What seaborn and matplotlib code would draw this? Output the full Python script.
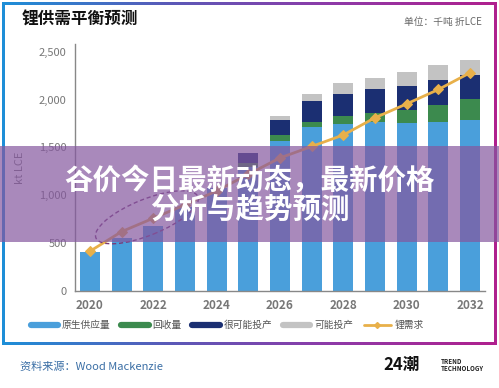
import numpy as np
import pandas as pd
import matplotlib
matplotlib.use("Agg")
import matplotlib.pyplot as plt
import seaborn as sns
from matplotlib.patches import Rectangle, Ellipse
from matplotlib.lines import Line2D
from matplotlib.transforms import ScaledTranslation
from matplotlib.colors import LinearSegmentedColormap

# ---- data ----
years = ["2020", "2021", "2022", "2023", "2024", "2025", "2026",
         "2027", "2028", "2029", "2030", "2031", "2032"]
primary = [410, 555, 680, 880, 1080, 1300, 1570, 1710, 1745, 1770, 1760, 1770, 1790]
recycle = [0, 0, 0, 0, 0, 40, 60, 60, 85, 90, 135, 175, 215]
likely = [0, 0, 0, 0, 0, 100, 160, 210, 225, 245, 245, 260, 255]
possible = [0, 0, 0, 0, 0, 0, 40, 80, 115, 125, 145, 155, 155]
demand = [415, 620, 760, 900, 1045, 1220, 1390, 1510, 1630, 1810, 1955, 2105, 2280]
series_names = ["原生供应量", "回收量", "很可能投产", "可能投产", "锂需求"]
tick_years = ["2020", "2022", "2024", "2026", "2028", "2030", "2032"]
ytick_vals = [0, 500, 1000, 1500, 2000, 2500]

c_blue = "#4a9fdb"
c_green = "#3c8a4e"
c_navy = "#1b2f72"
c_gray = "#c3c3c3"
c_gold = "#e8b04a"

sns.set_theme(style="white")
plt.rcParams["font.family"] = ["Noto Sans CJK SC", "DejaVu Sans"]

W, H = 499, 388
fig = plt.figure(figsize=(W / 100, H / 100), dpi=100)
fig.patch.set_facecolor("white")

# background frame with gradient border
bg = fig.add_axes([0, 0, 1, 1])
bg.set_xlim(0, W)
bg.set_ylim(H, 0)
bg.axis("off")
cmap = LinearSegmentedColormap.from_list("b", ["#1e8fd8", "#5a5ab8", "#8e3aa8", "#b0208e"])
grad = np.linspace(0, 1, 256).reshape(1, -1)
bg.imshow(grad, cmap=cmap, extent=(2, 497, 345, 2), aspect="auto", zorder=0)
bg.add_patch(Rectangle((5, 5), 489, 337, facecolor="white", edgecolor="none", zorder=1))

df = pd.DataFrame({"year": years, "primary": primary, "recycle": recycle,
                   "likely": likely, "possible": possible, "demand": demand})
df["l1"] = df["primary"]
df["l2"] = df["l1"] + df["recycle"]
df["l3"] = df["l2"] + df["likely"]
df["l4"] = df["l3"] + df["possible"]

ax = fig.add_axes([75 / W, 1 - 291 / H, (485 - 75) / W, (291 - 44) / H])
ax.set_facecolor("none")
for col, c in [("l4", c_gray), ("l3", c_navy), ("l2", c_green), ("l1", c_blue)]:
    sns.barplot(data=df, x="year", y=col, color=c, width=0.63, saturation=1,
                ax=ax, edgecolor="none", linewidth=0)
sns.lineplot(x=np.arange(len(years)), y=df["demand"], ax=ax, color=c_gold,
             linewidth=2, marker="D", markersize=5, markeredgecolor=c_gold, zorder=5)

ax.set_xlim(-0.47, 12.47)
ax.set_ylim(0, 2580)
ax.set_yticks(ytick_vals)
ax.set_yticklabels([f"{v:,}" for v in ytick_vals], fontsize=8, color="#777777")
ax.set_xticks([years.index(t) for t in tick_years])
ax.set_xticklabels(tick_years, fontsize=8.5, color="#777777", fontweight="bold")
ax.tick_params(axis="both", length=0, pad=6)
ax.set_xlabel("")
ax.set_ylabel("kt LCE", fontsize=8, color="#777777", labelpad=10)
for s in ["top", "right"]:
    ax.spines[s].set_visible(False)
for s in ["left", "bottom"]:
    ax.spines[s].set_color("#888888")
    ax.spines[s].set_linewidth(1)

# dashed ellipse annotation around early demand points
ell = Ellipse((0, 0), width=1.1, height=0.36, angle=22, fill=False,
              edgecolor="#7a3a78", linestyle=(0, (3, 2)), linewidth=1,
              transform=fig.dpi_scale_trans + ScaledTranslation(1.8, 770, ax.transData),
              zorder=6)
ax.add_patch(ell)

# titles
fig.text(22 / W, 1 - 20 / H, "锂供需平衡预测", fontsize=12, fontweight="bold",
         color="#111111", va="center", ha="left")
fig.text(482 / W, 1 - 22 / H, "单位：千吨 折LCE", fontsize=7, color="#666666",
         va="center", ha="right")

# legend
handles = [Line2D([], [], color=c_blue, lw=4.5),
           Line2D([], [], color=c_green, lw=4.5),
           Line2D([], [], color=c_navy, lw=4.5),
           Line2D([], [], color=c_gray, lw=4.5),
           Line2D([], [], color=c_gold, lw=2, marker="D", markersize=3)]
fig.legend(handles, series_names, loc="center", bbox_to_anchor=(0.456, 1 - 325 / H),
           ncol=5, frameon=False, fontsize=7, handlelength=2.8, handletextpad=0.4,
           columnspacing=1.1, labelcolor="#555555")

# source & logo
fig.text(20 / W, 1 - 367 / H, "资料来源：Wood Mackenzie", fontsize=8, color="#3a6ea5",
         va="center", ha="left")
fig.text(383 / W, 1 - 365 / H, "24潮", fontsize=12, fontweight="bold", color="#111111",
         va="center", ha="left")
fig.text(441 / W, 1 - 365 / H, "TREND\nTECHNOLOGY", fontsize=4.5, fontweight="bold",
         color="#222222", va="center", ha="left", linespacing=1.0)

# purple overlay banner
fig.patches.append(Rectangle((0, 1 - 242 / H), 1, 96 / H, transform=fig.transFigure,
                             facecolor="#85579f", alpha=0.7, edgecolor="none", zorder=20))
fig.text(0.5, 1 - 181 / H, "谷价今日最新动态，最新价格", fontsize=20.5, fontweight="bold",
         color="white", ha="center", va="center", zorder=21)
fig.text(0.5, 1 - 210 / H, "分析与趋势预测", fontsize=20.5, fontweight="bold",
         color="white", ha="center", va="center", zorder=21)

fig.savefig("out.png", dpi=100)
